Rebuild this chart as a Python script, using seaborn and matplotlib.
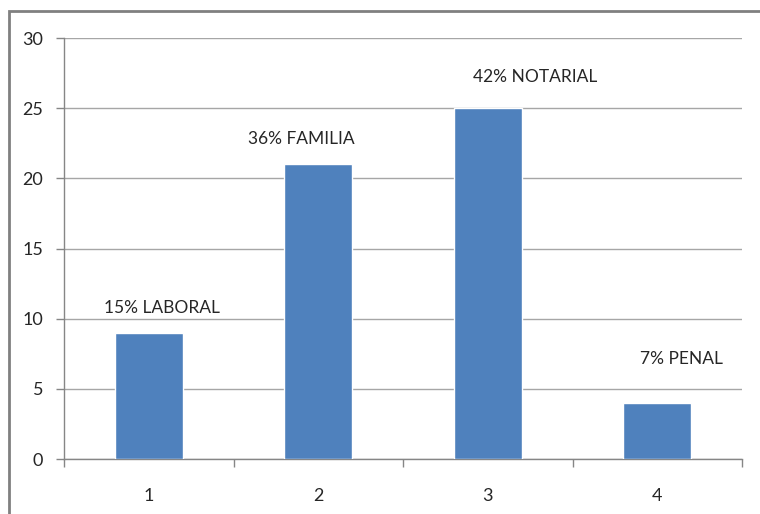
import matplotlib
matplotlib.use("Agg")
import matplotlib.pyplot as plt
import seaborn as sns
import pandas as pd
from matplotlib.patches import Rectangle

categorias = ["1", "2", "3", "4"]
valores = [9, 21, 25, 4]
rotulos = ["15% LABORAL", "36% FAMILIA", "42% NOTARIAL", "7% PENAL"]
# deslocamento do rotulo em relacao ao topo da barra (x em categorias, y em unidades)
desloc_x = [0.08, -0.10, 0.28, 0.14]
desloc_y = [1.75, 1.8, 2.2, 3.1]

C_BARRA = "#4F81BD"
C_GRADE = "#A6A6A6"
C_EIXO = "#868686"
C_TEXTO = "#262626"

sns.set_theme(style="white")
plt.rcParams['font.family'] = ['Lato', 'DejaVu Sans']
plt.rcParams['text.color'] = C_TEXTO

df = pd.DataFrame({'cat': categorias, 'valor': valores})

fig = plt.figure(figsize=(7.6, 5.14), dpi=100)
ax = fig.add_axes([64 / 760, 1 - 459 / 514, (742 - 64) / 760, (459 - 38) / 514])

sns.barplot(data=df, x='cat', y='valor', color=C_BARRA, width=0.4, saturation=1, ax=ax, zorder=3)

ax.set_ylim(0, 30)
ax.set_xlim(-0.5, 3.5)
ax.set_yticks(range(0, 31, 5))
ax.yaxis.grid(True, color=C_GRADE, linewidth=1, zorder=0)
ax.set_axisbelow(True)
ax.set_xlabel('')
ax.set_ylabel('')

for s in ['top', 'right']:
    ax.spines[s].set_visible(False)
for s in ['left', 'bottom']:
    ax.spines[s].set_color(C_EIXO)
    ax.spines[s].set_linewidth(1)

ax.tick_params(axis='y', which='major', left=True, length=6, width=1, color=C_EIXO,
               labelsize=13, labelcolor=C_TEXTO, pad=9)
ax.tick_params(axis='x', which='major', bottom=False, length=0, labelsize=13,
               labelcolor=C_TEXTO, pad=21)
ax.set_xticks([i - 0.5 for i in range(len(categorias) + 1)], minor=True)
ax.tick_params(axis='x', which='minor', bottom=True, length=6, width=1, color=C_EIXO)

for i, (v, r) in enumerate(zip(valores, rotulos)):
    ax.text(i + desloc_x[i], v + desloc_y[i], r, ha='center', va='center',
            fontsize=12.5, color=C_TEXTO)

borda = Rectangle((9 / 760, -0.1), 1.2, 1.1 - 11 / 514, transform=fig.transFigure,
                  fill=False, edgecolor="#808080", linewidth=2)
fig.patches.append(borda)

fig.savefig("out.png", dpi=100)
